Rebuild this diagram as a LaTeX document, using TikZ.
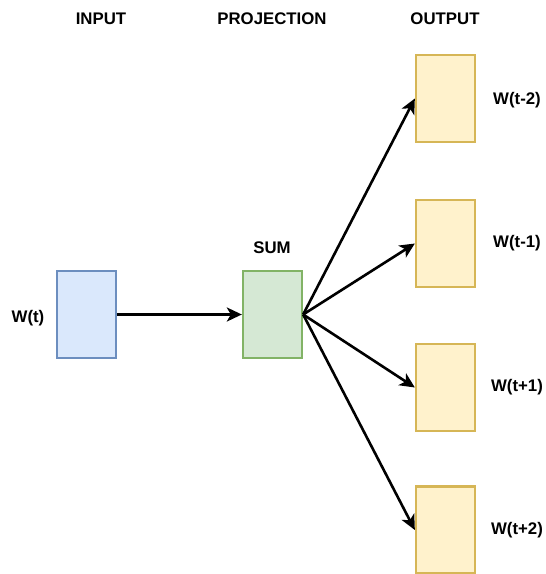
\documentclass[tikz,border=0pt]{standalone}
\usepackage{fontspec}
\setmainfont{Liberation Sans}
\usetikzlibrary{arrows.meta}
\definecolor{inFill}{HTML}{DAE8FC}
\definecolor{inLine}{HTML}{6C8EBF}
\definecolor{sumFill}{HTML}{D5E8D4}
\definecolor{sumLine}{HTML}{82B366}
\definecolor{outFill}{HTML}{FFF2CC}
\definecolor{outLine}{HTML}{D6B656}
\tikzset{
  unit/.style={draw, line width=2.3pt, minimum width=59pt, minimum height=87pt, inner sep=0pt},
  inunit/.style={unit, fill=inFill, draw=inLine},
  sumunit/.style={unit, fill=sumFill, draw=sumLine},
  outunit/.style={unit, fill=outFill, draw=outLine},
  lbl/.style={font=\fontsize{16.8pt}{19pt}\selectfont\bfseries, inner sep=0pt},
  link/.style={line width=2.6pt, -{Stealth[length=15pt, width=14pt, inset=4pt]}}
}
\begin{document}
\begin{tikzpicture}[x=1pt, y=-1pt]
  \useasboundingbox (0,0) rectangle (546,574);
  % column headings
  \node[lbl] (hin)   at (101,19)  {INPUT};
  \node[lbl] (hproj) at (272,19)  {PROJECTION};
  \node[lbl] (hout)  at (445,19)  {OUTPUT};
  % units
  \node[inunit]  (in)  at (86.5,314.5)  {};
  \node[sumunit] (sum) at (272.5,314.5) {};
  \node[outunit] (o1)  at (445.5,98.5)  {};
  \node[outunit] (o2)  at (445.5,243.5) {};
  \node[outunit] (o3)  at (445.5,387.5) {};
  \node[outunit] (o4)  at (445.5,530)   {};
  % labels
  \node[lbl] (lin)  at (28,318)  {W(t)};
  \node[lbl] (lsum) at (272,248) {SUM};
  \node[lbl] (l1)   at (517,100) {W(t-2)};
  \node[lbl] (l2)   at (517,243) {W(t-1)};
  \node[lbl] (l3)   at (517,387) {W(t+1)};
  \node[lbl] (l4)   at (517,530) {W(t+2)};
  % connections
  \draw[link] (in.east) -- (sum.west);
  \draw[link] (sum.east) -- (o1.west);
  \draw[link] (sum.east) -- (o2.west);
  \draw[link] (sum.east) -- (o3.west);
  \draw[link] (sum.east) -- (o4.west);
\end{tikzpicture}
\end{document}
